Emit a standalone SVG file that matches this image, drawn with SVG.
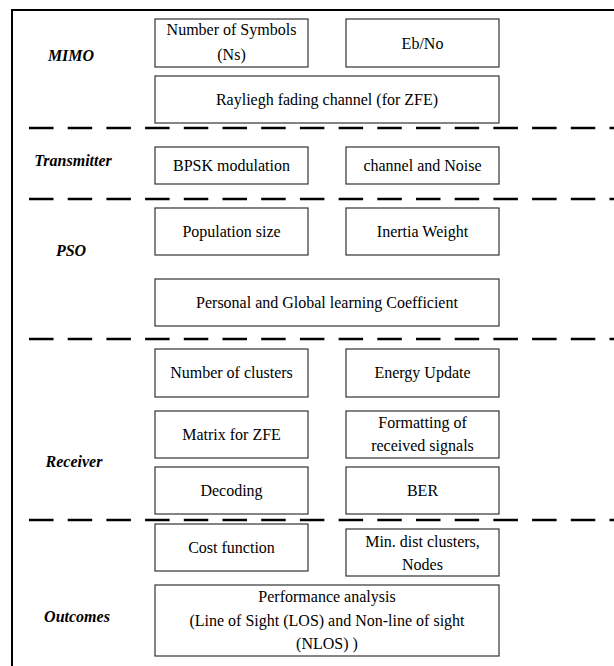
<svg xmlns="http://www.w3.org/2000/svg" width="614" height="666" viewBox="0 0 614 666">
<style>
.frame{fill:none;stroke:#000;stroke-width:2}
.box{fill:#fff;stroke:#333;stroke-width:1.2}
.dash{stroke:#000;stroke-width:2.5;stroke-dasharray:24.5 14.2;fill:none}
text{font-family:'Liberation Serif','Times New Roman','DejaVu Serif',serif;font-size:16px;fill:#000;text-anchor:middle}
.lab{font-weight:bold;font-style:italic}
</style>
<rect class="frame" x="12" y="10" width="620" height="680"/>
<g id="connectors">
<line class="dash" x1="29" y1="128" x2="614" y2="128"/>
<line class="dash" x1="29" y1="199" x2="614" y2="199"/>
<line class="dash" x1="29" y1="339" x2="614" y2="339"/>
<line class="dash" x1="29" y1="520" x2="614" y2="520"/>
</g>
<g id="labels">
<text class="lab" x="71" y="61">MIMO</text>
<text class="lab" x="73" y="166">Transmitter</text>
<text class="lab" x="71" y="256">PSO</text>
<text class="lab" x="74" y="467">Receiver</text>
<text class="lab" x="77" y="622">Outcomes</text>
</g>
<g id="n-ns"><rect class="box" x="155" y="19" width="153" height="48"/><text x="231.5" y="35">Number of Symbols</text><text x="231.5" y="60">(Ns)</text></g>
<g id="n-ebno"><rect class="box" x="346" y="19" width="153" height="48"/><text x="422.5" y="49">Eb/No</text></g>
<g id="n-rayleigh"><rect class="box" x="155" y="76" width="344" height="47"/><text x="327" y="105">Rayliegh fading channel (for ZFE)</text></g>
<g id="n-bpsk"><rect class="box" x="155" y="147" width="153" height="37"/><text x="231.5" y="171">BPSK modulation</text></g>
<g id="n-chan"><rect class="box" x="346" y="147" width="153" height="37"/><text x="422.5" y="171">channel and Noise</text></g>
<g id="n-pop"><rect class="box" x="155" y="208" width="153" height="47"/><text x="231.5" y="237">Population size</text></g>
<g id="n-inertia"><rect class="box" x="346" y="208" width="153" height="47"/><text x="422.5" y="237">Inertia Weight</text></g>
<g id="n-personal"><rect class="box" x="155" y="279" width="344" height="47"/><text x="327" y="308">Personal and Global learning Coefficient</text></g>
<g id="n-clusters"><rect class="box" x="155" y="349" width="153" height="48"/><text x="231.5" y="378">Number of clusters</text></g>
<g id="n-energy"><rect class="box" x="346" y="349" width="153" height="48"/><text x="422.5" y="378">Energy Update</text></g>
<g id="n-matrix"><rect class="box" x="155" y="411" width="153" height="47"/><text x="231.5" y="440">Matrix for ZFE</text></g>
<g id="n-format"><rect class="box" x="346" y="411" width="153" height="47"/><text x="422.5" y="428">Formatting of</text><text x="422.5" y="451">received signals</text></g>
<g id="n-decoding"><rect class="box" x="155" y="467" width="153" height="47"/><text x="231.5" y="496">Decoding</text></g>
<g id="n-ber"><rect class="box" x="346" y="467" width="153" height="47"/><text x="422.5" y="496">BER</text></g>
<g id="n-cost"><rect class="box" x="155" y="524" width="153" height="47"/><text x="231.5" y="553">Cost function</text></g>
<g id="n-mindist"><rect class="box" x="346" y="529" width="153" height="47"/><text x="422.5" y="547">Min. dist clusters,</text><text x="422.5" y="570">Nodes</text></g>
<g id="n-perf"><rect class="box" x="155" y="585" width="344" height="71"/><text x="327" y="602">Performance analysis</text><text x="327" y="626">(Line of Sight (LOS) and Non-line of sight</text><text x="327" y="649">(NLOS) )</text></g>
</svg>
